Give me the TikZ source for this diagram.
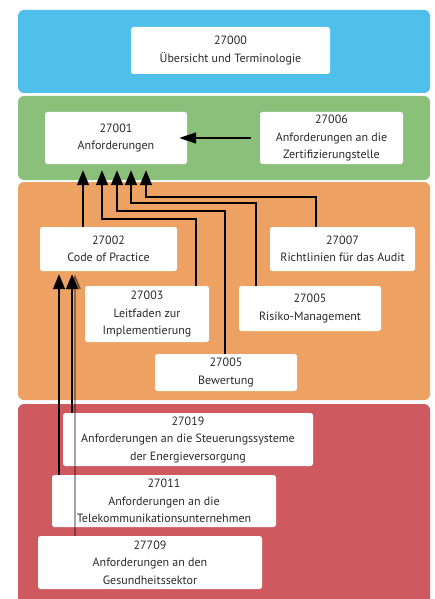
\documentclass[tikz,border=0pt]{standalone}
\usepackage{fontspec}
\setmainfont{PT Sans}
\usetikzlibrary{arrows.meta}
\definecolor{bandblue}{HTML}{4EC0EB}
\definecolor{bandgreen}{HTML}{8AC07A}
\definecolor{bandorange}{HTML}{EDA263}
\definecolor{bandred}{HTML}{CE595E}
\definecolor{textgray}{HTML}{2A2A2A}
\tikzset{
  band/.style = {rounded corners=6pt},
  stdbox/.style = {fill=white, rounded corners=2.5pt, align=center, inner sep=0pt,
    text=textgray, font=\fontsize{12}{17.5}\selectfont},
  arr/.style = {line width=1.5pt, -{Triangle[width=12pt,length=15pt]}},
}
\begin{document}
\begin{tikzpicture}[x=1pt,y=-1pt]
\useasboundingbox (0,0) rectangle (434,599);
\fill[white] (0,0) rectangle (434,599);
\begin{scope}
\clip (0,0) rectangle (434,599);
\fill[band, bandblue] (18,10) rectangle (430,93);
\fill[band, bandgreen] (18,96) rectangle (430,180);
\fill[band, bandorange] (18,182) rectangle (430,400);
\fill[band, bandred] (18,404) rectangle (430,615);
\end{scope}
\node[stdbox, minimum width=199, minimum height=47] (n27000) at (230.5,50.5) {27000\\Übersicht und Terminologie};
\node[stdbox, minimum width=142, minimum height=52] (n27001) at (116,138) {27001\\Anforderungen};
\node[stdbox, minimum width=143, minimum height=52] (n27006) at (331.5,138) {27006\\Anforderungen an die\\Zertifizierungstelle};
\node[stdbox, minimum width=137, minimum height=44] (n27002) at (108.5,249) {27002\\Code of Practice};
\node[stdbox, minimum width=145, minimum height=44] (n27007) at (342.5,249) {27007\\Richtlinien für das Audit};
\node[stdbox, minimum width=124, minimum height=56] (n27003) at (147,314) {27003\\Leitfaden zur\\Implementierung};
\node[stdbox, minimum width=142, minimum height=45] (risiko) at (310,308.5) {27005\\Risiko-Management};
\node[stdbox, minimum width=142, minimum height=37] (bewertung) at (226,372.5) {27005\\Bewertung};
\node[stdbox, minimum width=250, minimum height=53] (n27019) at (188,439.5) {27019\\Anforderungen an die Steuerungssysteme\\der Energieversorgung};
\node[stdbox, minimum width=224, minimum height=52] (n27011) at (164,501) {27011\\Anforderungen an die\\Telekommunikationsunternehmen};
\node[stdbox, minimum width=224, minimum height=53] (n27709) at (150,562.5) {27709\\Anforderungen an den\\Gesundheitssektor};
\draw[arr, -{Triangle[width=11pt,length=17pt]}] (n27006.west) ++(-9,0) -- ([xshift=-8]n27001.east);
\begin{scope}[shorten >=6pt]
\draw[arr] (83,0 |- n27002.north) -- (83,0 |- n27001.south);
\draw[arr] (196,0 |- n27003.north) |- (102,219) -- (102,0 |- n27001.south);
\draw[arr] (225,0 |- bewertung.north) |- (117,211) -- (117,0 |- n27001.south);
\draw[arr] (256,0 |- risiko.north) |- (131,203) -- (131,0 |- n27001.south);
\draw[arr] (316,0 |- n27007.north) |- (146,197) -- (146,0 |- n27001.south);
\end{scope}
\begin{scope}[shorten >=3pt]
\draw[arr, opacity=0.35] (75,0 |- n27709.north) -- (75,0 |- n27002.south);
\draw[arr] (59,0 |- n27011.north) -- (59,0 |- n27002.south);
\draw[arr] (72,0 |- n27019.north) -- (72,0 |- n27002.south);
\end{scope}
\end{tikzpicture}
\end{document}
